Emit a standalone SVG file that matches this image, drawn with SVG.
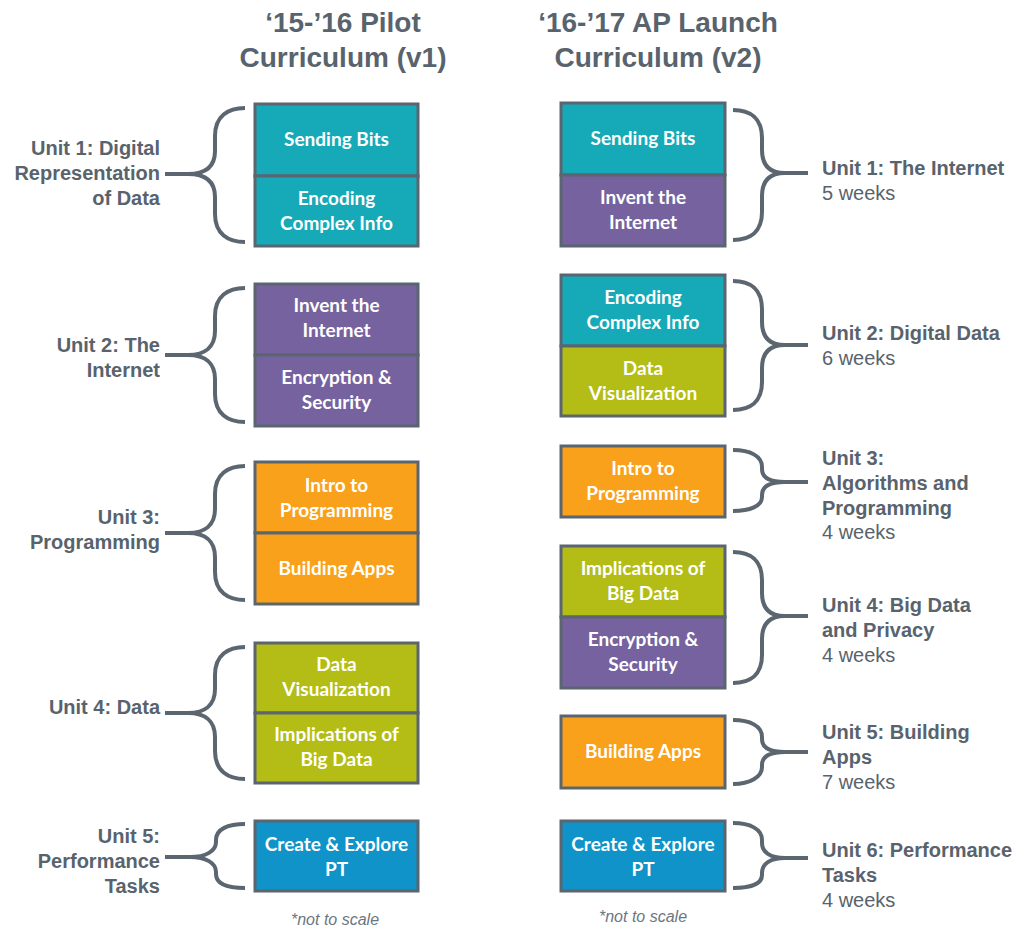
<svg xmlns="http://www.w3.org/2000/svg" width="1020" height="928" viewBox="0 0 1020 928">
<style>
.title{font-family:"Liberation Sans",Arial,sans-serif;font-weight:bold;font-size:28px;fill:#58636d;text-anchor:middle}
.lbl{font-family:"Liberation Sans",Arial,sans-serif;font-weight:bold;font-size:20px;fill:#58636d}
.wk{font-family:"Liberation Sans",Arial,sans-serif;font-size:20px;fill:#58636d}
.l{text-anchor:end}
.bt{font-family:Lato,"Open Sans",sans-serif;font-weight:bold;font-size:19px;fill:#ffffff;text-anchor:middle}
.box{stroke:#5a6570;stroke-width:3}
.teal{fill:#16aab8}
.purple{fill:#76629f}
.orange{fill:#f9a11b}
.olive{fill:#b3bd15}
.blue{fill:#0f93c8}
.brace{fill:none;stroke:#5b6670;stroke-width:4;stroke-linecap:butt}
.note{font-family:"Liberation Sans",Arial,sans-serif;font-style:italic;font-size:16px;fill:#6b7680;text-anchor:middle}
</style>
<rect width="1020" height="928" fill="#ffffff"/>
<text class="title" x="343" y="32">‘15-’16 Pilot</text>
<text class="title" x="343" y="67">Curriculum (v1)</text>
<text class="title" x="658" y="32">‘16-’17 AP Launch</text>
<text class="title" x="658" y="67">Curriculum (v2)</text>

<g id="connectors">
<path class="brace" d="M245,108 C228,108 215,116 215,136 L215,151 C215,167 205,174 188,174 L165,174 M188,174 C205,174 215,181 215,197 L215,214 C215,234 228,242 245,242"/>
<path class="brace" d="M245,288 C228,288 215,296 215,316 L215,331 C215,347 205,355 188,355 L165,355 M188,355 C205,355 215,363 215,379 L215,394 C215,414 228,422 245,422"/>
<path class="brace" d="M245,466 C228,466 215,474 215,494 L215,509 C215,525 205,533 188,533 L165,533 M188,533 C205,533 215,541 215,557 L215,572 C215,592 228,600 245,600"/>
<path class="brace" d="M245,647 C228,647 215,655 215,675 L215,689 C215,705 205,713 188,713 L165,713 M188,713 C205,713 215,721 215,737 L215,751 C215,771 228,779 245,779"/>
<path class="brace" d="M245,824 C228,824 216,829 216,840 L216,842 C216,851 206,857 190,857 L165,857 M190,857 C206,857 216,863 216,872 L216,874 C216,884 228,888 245,888"/>

<path class="brace" d="M733,110 C750,110 762,118 762,138 L762,150 C762,166 770,173 785,173 L808,173 M785,173 C770,173 762,180 762,196 L762,212 C762,232 750,240 733,240"/>
<path class="brace" d="M733,281 C750,281 762,289 762,309 L762,322 C762,338 770,345 785,345 L808,345 M785,345 C770,345 762,352 762,368 L762,382 C762,402 750,410 733,410"/>
<path class="brace" d="M733,450 C750,450 762,456 762,467 L762,469 C762,478 770,482 785,482 L808,482 M785,482 C770,482 762,486 762,495 L762,497 C762,506 750,511 733,511"/>
<path class="brace" d="M733,552 C750,552 762,560 762,580 L762,593 C762,609 770,616 785,616 L808,616 M785,616 C770,616 762,623 762,639 L762,655 C762,675 750,683 733,683"/>
<path class="brace" d="M733,720 C750,720 762,726 762,737 L762,739 C762,748 770,752 785,752 L808,752 M785,752 C770,752 762,756 762,765 L762,767 C762,777 750,784 733,784"/>
<path class="brace" d="M733,823 C750,823 762,829 762,840 L762,843 C762,852 770,858 785,858 L808,858 M785,858 C770,858 762,864 762,873 L762,875 C762,884 750,888 733,888"/>
</g>

<g id="v1-unit1">
<rect class="box teal" x="255" y="104" width="163" height="72"/>
<rect class="box teal" x="255" y="176" width="163" height="70"/>
<text class="bt" x="336.5" y="146">Sending Bits</text>
<text class="bt" x="336.5" y="205">Encoding</text>
<text class="bt" x="336.5" y="230">Complex Info</text>
<text class="lbl l" x="160" y="155">Unit 1: Digital</text>
<text class="lbl l" x="160" y="180">Representation</text>
<text class="lbl l" x="160" y="205">of Data</text>
</g>
<g id="v1-unit2">
<rect class="box purple" x="255" y="284" width="163" height="71"/>
<rect class="box purple" x="255" y="355" width="163" height="71"/>
<text class="bt" x="336.5" y="312">Invent the</text>
<text class="bt" x="336.5" y="337">Internet</text>
<text class="bt" x="336.5" y="384">Encryption &amp;</text>
<text class="bt" x="336.5" y="409">Security</text>
<text class="lbl l" x="160" y="352">Unit 2: The</text>
<text class="lbl l" x="160" y="377">Internet</text>
</g>
<g id="v1-unit3">
<rect class="box orange" x="255" y="462" width="163" height="71"/>
<rect class="box orange" x="255" y="533" width="163" height="71"/>
<text class="bt" x="336.5" y="492">Intro to</text>
<text class="bt" x="336.5" y="517">Programming</text>
<text class="bt" x="336.5" y="575">Building Apps</text>
<text class="lbl l" x="160" y="524">Unit 3:</text>
<text class="lbl l" x="160" y="549">Programming</text>
</g>
<g id="v1-unit4">
<rect class="box olive" x="255" y="643" width="163" height="70"/>
<rect class="box olive" x="255" y="713" width="163" height="70"/>
<text class="bt" x="336.5" y="671">Data</text>
<text class="bt" x="336.5" y="696">Visualization</text>
<text class="bt" x="336.5" y="741">Implications of</text>
<text class="bt" x="336.5" y="766">Big Data</text>
<text class="lbl l" x="160" y="714">Unit 4: Data</text>
</g>
<g id="v1-unit5">
<rect class="box blue" x="255" y="821" width="163" height="70"/>
<text class="bt" x="336.5" y="851">Create &amp; Explore</text>
<text class="bt" x="336.5" y="876">PT</text>
<text class="lbl l" x="160" y="843">Unit 5:</text>
<text class="lbl l" x="160" y="868">Performance</text>
<text class="lbl l" x="160" y="893">Tasks</text>
</g>

<g id="v2-unit1">
<rect class="box teal" x="561" y="103" width="164" height="72"/>
<rect class="box purple" x="561" y="175" width="164" height="71"/>
<text class="bt" x="643" y="145">Sending Bits</text>
<text class="bt" x="643" y="204">Invent the</text>
<text class="bt" x="643" y="229">Internet</text>
<text class="lbl" x="822" y="175">Unit 1: The Internet</text>
<text class="wk" x="822" y="200">5 weeks</text>
</g>
<g id="v2-unit2">
<rect class="box teal" x="561" y="275" width="164" height="71"/>
<rect class="box olive" x="561" y="346" width="164" height="70"/>
<text class="bt" x="643" y="304">Encoding</text>
<text class="bt" x="643" y="329">Complex Info</text>
<text class="bt" x="643" y="375">Data</text>
<text class="bt" x="643" y="400">Visualization</text>
<text class="lbl" x="822" y="340">Unit 2: Digital Data</text>
<text class="wk" x="822" y="365">6 weeks</text>
</g>
<g id="v2-unit3">
<rect class="box orange" x="561" y="446" width="164" height="71"/>
<text class="bt" x="643" y="475">Intro to</text>
<text class="bt" x="643" y="500">Programming</text>
<text class="lbl" x="822" y="465">Unit 3:</text>
<text class="lbl" x="822" y="490">Algorithms and</text>
<text class="lbl" x="822" y="515">Programming</text>
<text class="wk" x="822" y="539">4 weeks</text>
</g>
<g id="v2-unit4">
<rect class="box olive" x="561" y="546" width="164" height="71"/>
<rect class="box purple" x="561" y="617" width="164" height="71"/>
<text class="bt" x="643" y="575">Implications of</text>
<text class="bt" x="643" y="600">Big Data</text>
<text class="bt" x="643" y="646">Encryption &amp;</text>
<text class="bt" x="643" y="671">Security</text>
<text class="lbl" x="822" y="612">Unit 4: Big Data</text>
<text class="lbl" x="822" y="637">and Privacy</text>
<text class="wk" x="822" y="662">4 weeks</text>
</g>
<g id="v2-unit5">
<rect class="box orange" x="561" y="716" width="164" height="72"/>
<text class="bt" x="643" y="758">Building Apps</text>
<text class="lbl" x="822" y="739">Unit 5: Building</text>
<text class="lbl" x="822" y="764">Apps</text>
<text class="wk" x="822" y="789">7 weeks</text>
</g>
<g id="v2-unit6">
<rect class="box blue" x="561" y="821" width="164" height="70"/>
<text class="bt" x="643" y="851">Create &amp; Explore</text>
<text class="bt" x="643" y="876">PT</text>
<text class="lbl" x="822" y="857">Unit 6: Performance</text>
<text class="lbl" x="822" y="882">Tasks</text>
<text class="wk" x="822" y="907">4 weeks</text>
</g>

<text class="note" x="335" y="925">*not to scale</text>
<text class="note" x="643" y="922">*not to scale</text>
</svg>
